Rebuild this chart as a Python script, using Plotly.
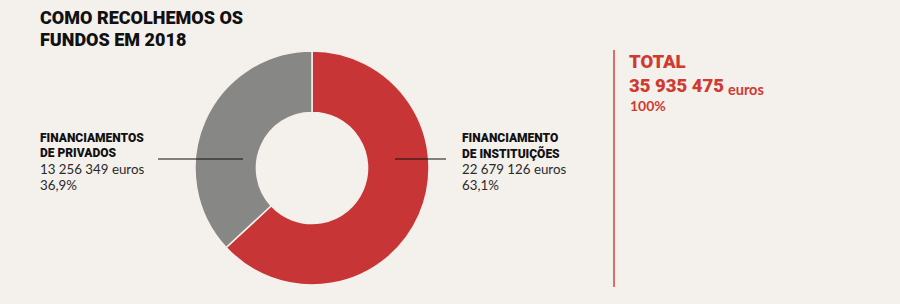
import plotly.graph_objects as go

W, H = 900, 304
BG = "#f4f0ec"
RED = "#c83537"
GRAY = "#878786"
TXTRED = "#d03a30"

title_lines = ["COMO RECOLHEMOS OS", "FUNDOS EM 2018"]
categories = ["FINANCIAMENTO<br>DE INSTITUIÇÕES", "FINANCIAMENTOS<br>DE PRIVADOS"]
amounts = [22679126, 13256349]
amount_labels = ["22 679 126", "13 256 349"]
pct_labels = ["63,1%", "36,9%"]
total_label = "35 935 475"
total_pct = "100%"
colors = [RED, GRAY]

COND = "Roboto, DejaVu Sans Condensed, sans-serif"
REG = "Lato, Roboto, sans-serif"

def px(x):
    return x / W

def py(y):
    return 1 - y / H

fig = go.Figure()
fig.add_trace(go.Pie(
    values=amounts,
    labels=categories,
    hole=0.475,
    sort=False,
    direction="clockwise",
    rotation=0,
    marker=dict(colors=colors, line=dict(color=BG, width=1.5)),
    textinfo="none",
    hoverinfo="label+value",
    showlegend=False,
    domain=dict(x=[px(195), px(429)], y=[py(285), py(51)]),
))

ann = []

def txt(x, y, t, family, size, color, weight="bold"):
    ann.append(dict(x=px(x), y=py(y), text=t,
                    font=dict(family=family, size=size, color=color, weight=weight),
                    xanchor="left", yanchor="middle", showarrow=False, borderpad=0))

# title
txt(39, 17, title_lines[0], COND, 18, "#111111", 900)
txt(39, 39.5, title_lines[1], COND, 18, "#111111", 900)

def block(x0, idx):
    cat_lines = categories[idx].split("<br>")
    txt(x0, 138, cat_lines[0], COND, 12, "#111111", 900)
    txt(x0, 153, cat_lines[1], COND, 12, "#111111", 900)
    txt(x0, 169, amount_labels[idx] + " euros", REG, 13.3, "#2a2a2a", "normal")
    txt(x0, 185, pct_labels[idx], REG, 13.3, "#2a2a2a", "normal")

block(39, 1)
block(461, 0)

# total
txt(628, 62, "TOTAL", COND, 18.5, TXTRED, 900)
txt(628, 86, total_label, COND, 18.5, TXTRED, 900)
txt(727, 89, "euros", REG, 14.5, TXTRED)
txt(629, 106, total_pct, REG, 14, TXTRED)

shapes = [
    dict(type="line", xref="paper", yref="paper", x0=px(158), x1=px(243), y0=py(159), y1=py(159),
         line=dict(color="#111111", width=1)),
    dict(type="line", xref="paper", yref="paper", x0=px(395), x1=px(446), y0=py(159), y1=py(159),
         line=dict(color="#111111", width=1)),
    dict(type="line", xref="paper", yref="paper", x0=px(614), x1=px(614), y0=py(50), y1=py(287),
         line=dict(color="#d9403a", width=1.5)),
]

fig.update_layout(
    width=W, height=H,
    margin=dict(l=0, r=0, t=0, b=0),
    paper_bgcolor=BG, plot_bgcolor=BG,
    annotations=ann, shapes=shapes,
)
fig.write_html("out.html")
